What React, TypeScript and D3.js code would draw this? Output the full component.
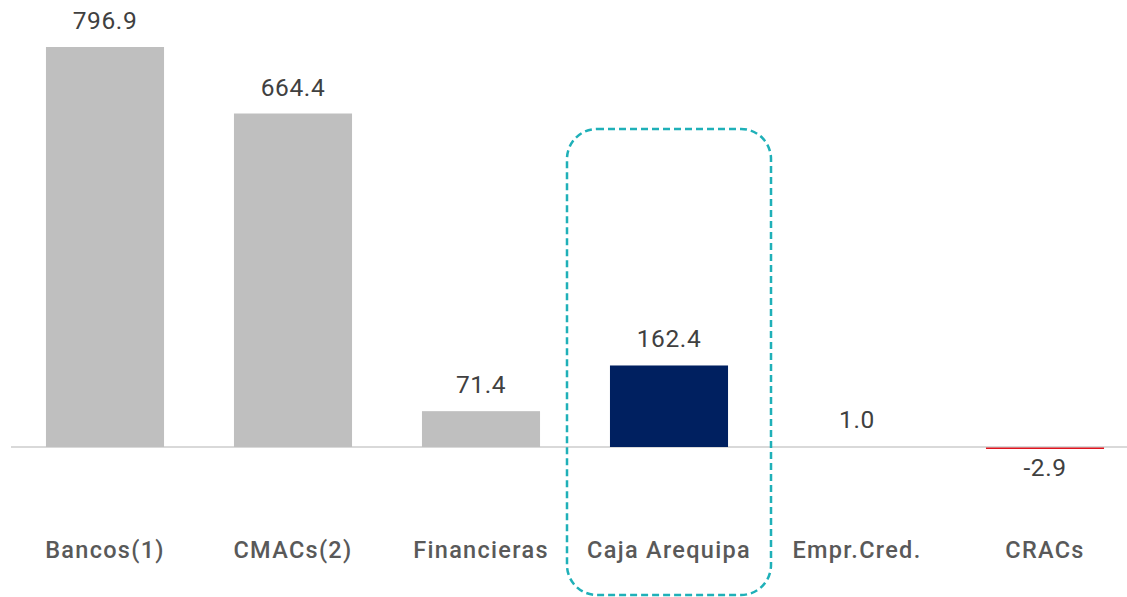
import React from "react";
import * as d3 from "d3";

const categories = ["Bancos(1)", "CMACs(2)", "Financieras", "Caja Arequipa", "Empr.Cred.", "CRACs"];
const values = [796.9, 664.4, 71.4, 162.4, 1.0, -2.9];
const labels = ["796.9", "664.4", "71.4", "162.4", "1.0", "-2.9"];
const highlight = "Caja Arequipa";

const W = 1127;
const H = 597;

export default function App() {
  const x = d3.scaleBand<string>().domain(categories).range([11, 1139]).paddingInner(0.372).paddingOuter(0.186);
  const y = d3.scaleLinear().domain([0, 796.9]).range([447, 47]);
  const bw = x.bandwidth();
  const hx = x(highlight)! + bw / 2;

  const barColor = (c: string, v: number) =>
    c === highlight ? "#002060" : v < 0 ? "#e0141e" : "#bfbfbf";

  return (
    <svg width={W} height={H} style={{ position: "absolute", left: 0, top: 0, background: "#fff" }}>
      <line x1={11} x2={1127} y1={y(0)} y2={y(0)} stroke="#d9d9d9" strokeWidth={2} />
      {categories.map((c, i) => {
        const v = values[i];
        const top = Math.min(y(v), y(0));
        const h = Math.abs(y(v) - y(0));
        const cx = x(c)! + bw / 2;
        return (
          <g key={c}>
            {h >= 1 && (
              <rect x={x(c)} y={v < 0 ? y(0) + 0.5 : top} width={bw} height={v < 0 ? 1.5 : h} fill={barColor(c, v)} />
            )}
            <text
              x={cx}
              y={v < 0 ? y(v) + 27.5 : y(v) - 18}
              textAnchor="middle"
              fontFamily="Roboto, 'Noto Sans', sans-serif"
              fontSize={24.5}
              letterSpacing={0.6}
              fill="#404040"
            >
              {labels[i]}
            </text>
            <text
              x={cx}
              y={558}
              textAnchor="middle"
              fontFamily="Roboto, 'Noto Sans', sans-serif"
              fontWeight={500}
              fontSize={23.5}
              fill="#595959"
              letterSpacing={1.3}
            >
              {c}
            </text>
          </g>
        );
      })}
      <rect
        x={hx - 102}
        y={129}
        width={204}
        height={466}
        rx={30}
        ry={30}
        fill="none"
        stroke="#1fb0b8"
        strokeWidth={2.5}
        strokeDasharray="7 4"
      />
    </svg>
  );
}
